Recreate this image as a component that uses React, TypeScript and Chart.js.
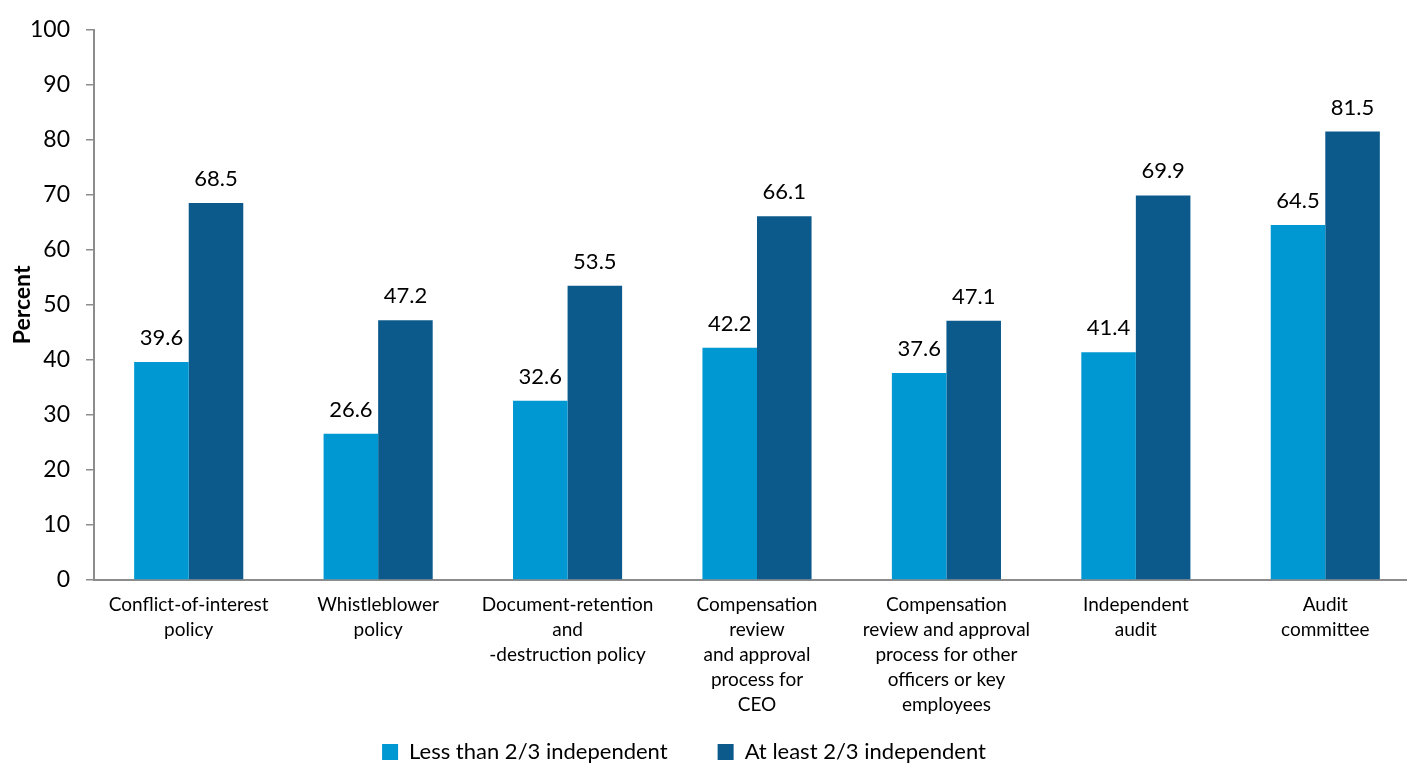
import React, { useEffect, useRef } from "react";
import { Chart, registerables } from "chart.js";

Chart.register(...registerables);

const categories: string[][] = [
  ["Conflict-of-interest", "policy"],
  ["Whistleblower", "policy"],
  ["Document-retention", "and", "-destruction policy"],
  ["Compensation", "review", "and approval", "process for", "CEO"],
  ["Compensation", "review and approval", "process for other", "officers or key", "employees"],
  ["Independent", "audit"],
  ["Audit", "committee"],
];

const lessThanTwoThirds = [39.6, 26.6, 32.6, 42.2, 37.6, 41.4, 64.5];
const atLeastTwoThirds = [68.5, 47.2, 53.5, 66.1, 47.1, 69.9, 81.5];
const seriesNames = ["Less than 2/3 independent", "At least 2/3 independent"];
const yAxisTitle = "Percent";
const yMin = 0;
const yMax = 100;
const yStep = 10;

const FONT = "Lato, 'Open Sans', sans-serif";
const LIGHT = "#0098d3";
const DARK = "#0c5a8b";
const AXIS = "#8c8c8c";

const valueLabels = {
  id: "valueLabels",
  afterDatasetsDraw(chart: any) {
    const ctx = chart.ctx;
    ctx.save();
    ctx.font = `22px ${FONT}`;
    ctx.fillStyle = "#000";
    ctx.textAlign = "center";
    ctx.textBaseline = "alphabetic";
    chart.data.datasets.forEach((ds: any, i: number) => {
      chart.getDatasetMeta(i).data.forEach((bar: any, j: number) => {
        ctx.fillText(Number(ds.data[j]).toFixed(1), bar.x, bar.y - 17);
      });
    });
    ctx.restore();
  },
};

const layoutTweaks = {
  id: "layoutTweaks",
  afterLayout(chart: any) {
    const l = chart.legend;
    if (l) {
      l.left -= 26;
      l.right -= 26;
    }
    const x = chart.scales.x;
    if (x) {
      x.bottom = chart.height;
    }
  },
};

export default function App() {
  const ref = useRef<HTMLCanvasElement | null>(null);

  useEffect(() => {
    if (!ref.current) return;
    Chart.defaults.font.family = FONT;
    Chart.defaults.color = "#000";
    const chart = new Chart(ref.current, {
      type: "bar",
      data: {
        labels: categories,
        datasets: [
          {
            label: seriesNames[0],
            data: lessThanTwoThirds,
            backgroundColor: LIGHT,
            borderWidth: 0,
            categoryPercentage: 0.576,
            barPercentage: 1,
          },
          {
            label: seriesNames[1],
            data: atLeastTwoThirds,
            backgroundColor: DARK,
            borderWidth: 0,
            categoryPercentage: 0.576,
            barPercentage: 1,
          },
        ],
      },
      options: {
        animation: false,
        responsive: false,
        devicePixelRatio: 1,
        layout: { padding: { top: 27, left: 0, right: 0, bottom: 0 } },
        plugins: {
          tooltip: { enabled: false },
          title: { display: false },
          legend: {
            position: "bottom",
            labels: {
              boxWidth: 16,
              boxHeight: 16,
              padding: 50,
              color: "#000",
              font: { size: 22, family: FONT },
            },
          },
        },
        scales: {
          x: {
            offset: true,
            grid: { display: false, drawTicks: false },
            border: { display: true, color: AXIS, width: 2 },
            ticks: {
              color: "#000",
              padding: 12,
              maxRotation: 0,
              autoSkip: false,
              font: { size: 19, family: FONT, lineHeight: 1.32 },
            },
            afterFit(scale: any) {
              scale.height = 111;
            },
          },
          y: {
            min: yMin,
            max: yMax,
            grid: {
              display: true,
              drawOnChartArea: false,
              drawTicks: true,
              tickLength: 8,
              color: AXIS,
              lineWidth: 1.5,
            },
            border: { display: true, color: AXIS, width: 2 },
            ticks: {
              stepSize: yStep,
              color: "#000",
              padding: 16,
              font: { size: 23, family: FONT },
            },
            title: {
              display: true,
              text: yAxisTitle,
              color: "#000",
              font: { size: 23, weight: "bold", family: FONT },
              padding: { top: 9, bottom: 0 },
            },
            afterFit(scale: any) {
              scale.width = 94;
            },
          },
        },
      },
      plugins: [valueLabels, layoutTweaks],
    } as any);
    return () => chart.destroy();
  }, []);

  return (
    <div
      style={{
        position: "fixed",
        left: 0,
        top: 0,
        width: 1407,
        height: 763,
        overflow: "hidden",
        background: "#fff",
      }}
    >
      <canvas ref={ref} width={1420} height={773} style={{ display: "block" }} />
    </div>
  );
}
